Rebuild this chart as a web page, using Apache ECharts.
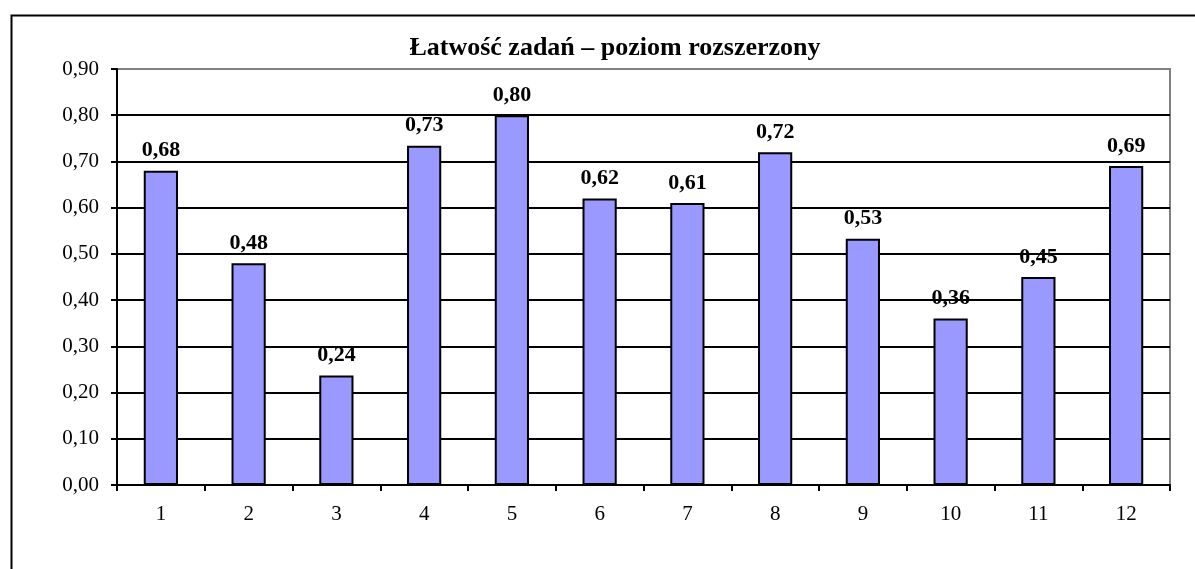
<!DOCTYPE html>
<html>
<head>
<meta charset="utf-8">
<script src="https://cdn.jsdelivr.net/npm/echarts@6/dist/echarts.min.js"></script>
<style>
  html, body { margin: 0; padding: 0; background: #fff; }
  #chart { width: 1195px; height: 569px; }
</style>
</head>
<body>
<div id="chart"></div>
<script>
const chartTitle = "Łatwość zadań – poziom rozszerzony";
const tasks = ["1", "2", "3", "4", "5", "6", "7", "8", "9", "10", "11", "12"];
const easiness = [0.68, 0.48, 0.237, 0.734, 0.80, 0.62, 0.61, 0.72, 0.533, 0.36, 0.45, 0.69];

const serif = "'Liberation Serif', 'Times New Roman', serif";
const fmt = (v) => v.toFixed(2).replace(".", ",");

const chart = echarts.init(document.getElementById("chart"));

// gridlines: black inside, grey on the top edge
const splitColors = ["#000", "#000", "#000", "#000", "#000", "#000", "#000", "#000", "#000", "#808080"];

chart.setOption({
  backgroundColor: "#fff",
  animation: false,
  title: {
    text: chartTitle,
    left: 610,
    textAlign: "center",
    top: 30,
    textStyle: { fontFamily: serif, fontSize: 26, fontWeight: "bold", color: "#000" },
  },
  graphic: [
    {
      type: "rect",
      left: 9,
      top: 13,
      silent: true,
      shape: { width: 1200, height: 600 },
      style: { fill: null, stroke: "#000", lineWidth: 2 },
    },
  ],
  grid: {
    left: 117,
    right: 25,
    top: 69,
    bottom: 84,
    show: true,
    borderColor: "#808080",
    borderWidth: 2,
  },
  xAxis: {
    type: "category",
    data: tasks,
    axisLine: { lineStyle: { color: "#000", width: 2 } },
    axisTick: { show: true, length: 6, lineStyle: { color: "#000", width: 2 } },
    axisLabel: { margin: 19, fontFamily: serif, fontSize: 21, color: "#000" },
  },
  yAxis: {
    type: "value",
    min: 0,
    max: 0.9,
    interval: 0.1,
    axisLine: { show: true, lineStyle: { color: "#000", width: 2 } },
    axisTick: { show: true, length: 6, lineStyle: { color: "#000", width: 2 } },
    axisLabel: { margin: 18, fontFamily: serif, fontSize: 21, color: "#000", formatter: fmt },
    splitLine: { lineStyle: { color: splitColors, width: 2 } },
  },
  series: [
    {
      type: "bar",
      data: easiness,
      barWidth: "39%",
      itemStyle: { color: "#9999FF", borderColor: "#000", borderWidth: 2 },
      label: {
        show: true,
        position: "top",
        distance: 9,
        fontFamily: serif,
        fontSize: 22,
        fontWeight: "bold",
        color: "#000",
        formatter: (p) => fmt(p.value),
      },
    },
  ],
});
</script>
</body>
</html>
